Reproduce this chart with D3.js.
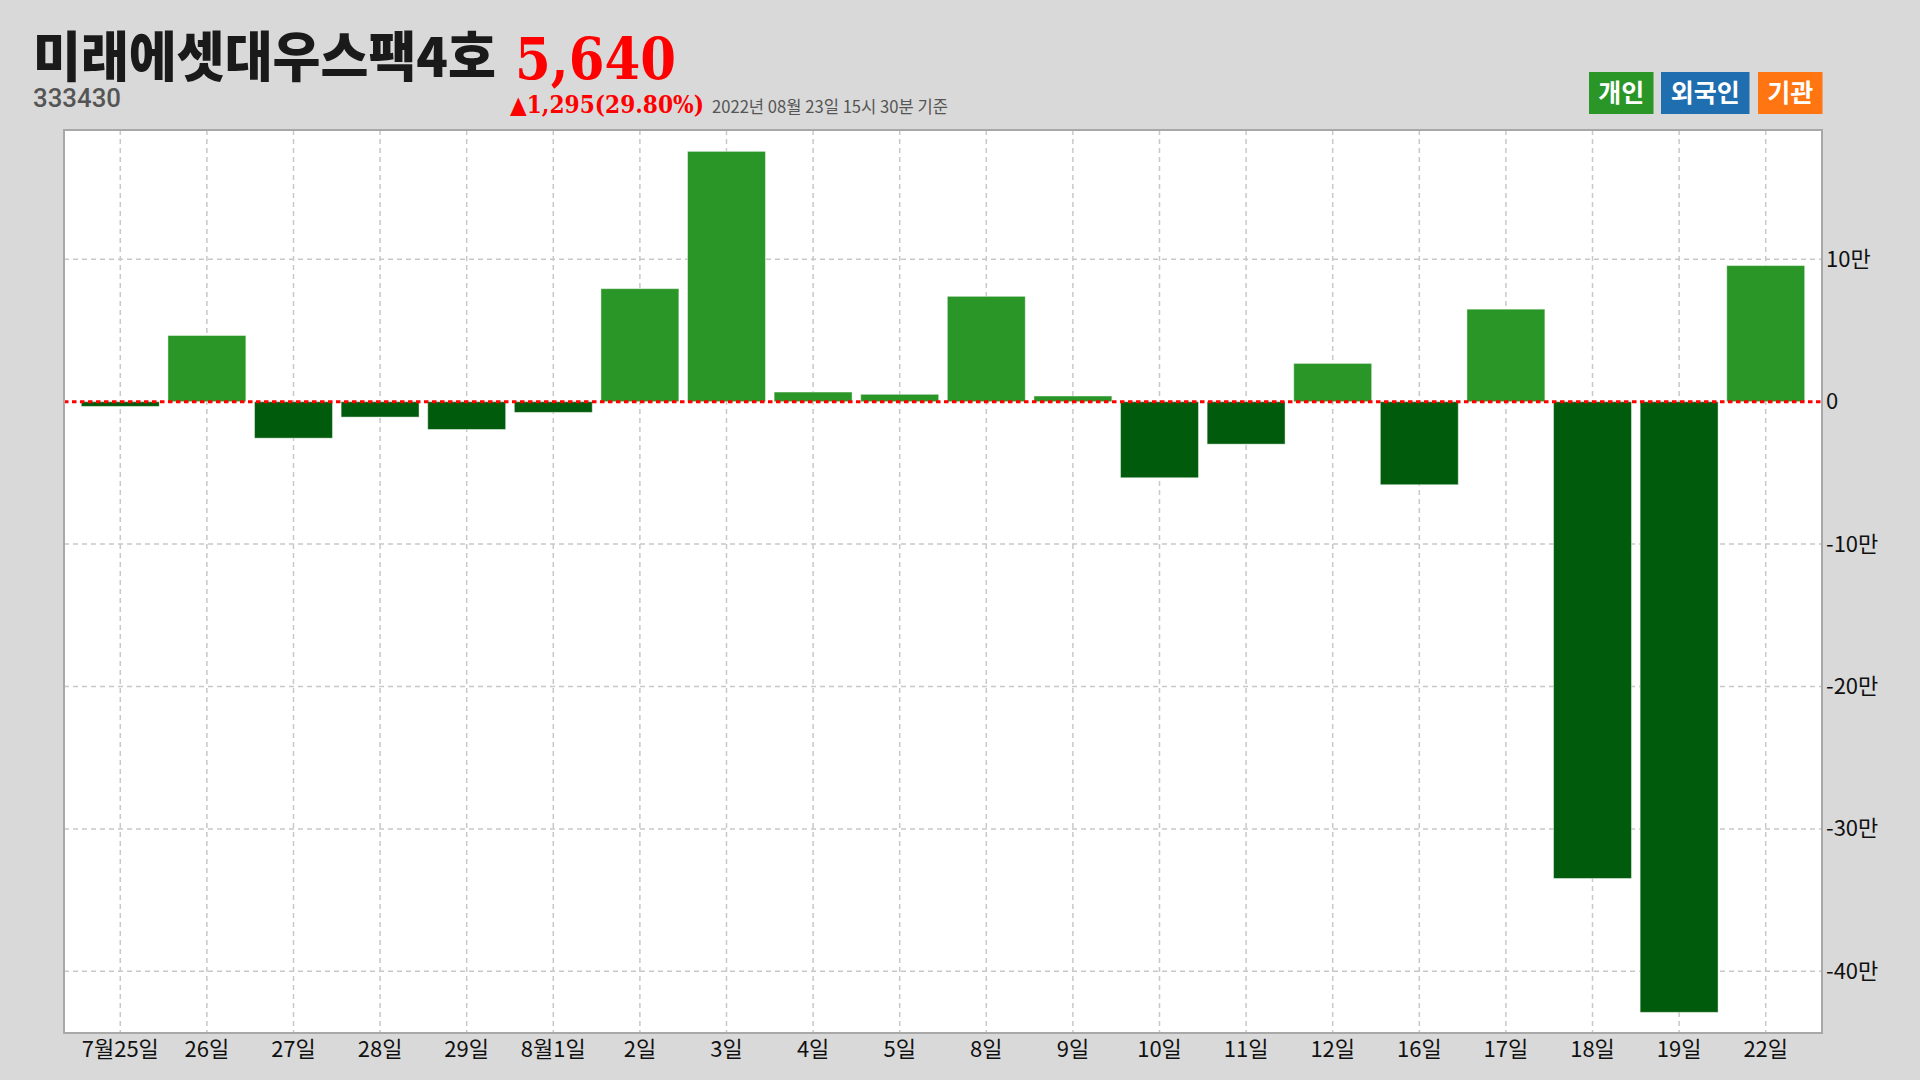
<!DOCTYPE html>
<html>
<head>
<meta charset="utf-8">
<script src="https://cdn.jsdelivr.net/npm/d3@7"></script>
<style>
  html, body { margin: 0; padding: 0; background: #d9d9d9; }
  svg { display: block; }
</style>
</head>
<body>
<svg id="chart" width="1920" height="1080"></svg>
<script>
// ---- data ----
const categories = ["7월25일","26일","27일","28일","29일","8월1일","2일","3일","4일","5일","8일","9일","10일","11일","12일","16일","17일","18일","19일","22일"];
const values = [-3300, 46500, -25600, -10800, -19500, -7500, 79400, 175800, 6800, 5200, 74000, 4000, -53400, -29800, 26900, -58300, 65000, -334800, -428800, 95600];
const yTicks = [-400000, -300000, -200000, -100000, 0, 100000];
const yTickLabels = ["-40만", "-30만", "-20만", "-10만", "0", "10만"];
const yDomain = [-443300, 190800];
const legendLabels = ["개인", "외국인", "기관"];
const legendColors = ["#2a9627", "#1f6eb0", "#ff7512"];
const titleText = "미래에셋대우스팩4호";
const codeText = "333430";
const priceText = "5,640";
const changeText = "▲1,295(29.80%)";
const dateText = "2022년 08월 23일 15시 30분 기준";

// ---- layout ----
const W = 1920, H = 1080;
const plot = { left: 64, top: 130, right: 1822, bottom: 1033 };
const posColor = "#2a9627", negColor = "#005c0c";
const kr = "'Noto Sans CJK KR', 'Noto Sans', sans-serif";

const svg = d3.select("#chart");
svg.append("rect").attr("width", W).attr("height", H).attr("fill", "#d9d9d9");

const x = d3.scaleBand().domain(categories).range([plot.left, plot.right]).paddingInner(0.1).paddingOuter(0.2);
const y = d3.scaleLinear().domain(yDomain).range([plot.bottom, plot.top]);

// plot background
svg.append("rect")
  .attr("x", plot.left).attr("y", plot.top)
  .attr("width", plot.right - plot.left).attr("height", plot.bottom - plot.top)
  .attr("fill", "#ffffff");

// grid
const grid = svg.append("g").attr("stroke", "#c8c8c8").attr("stroke-width", 1.5).attr("stroke-dasharray", "5,4");
grid.selectAll("line.v").data(categories).join("line")
  .attr("x1", d => x(d) + x.bandwidth() / 2).attr("x2", d => x(d) + x.bandwidth() / 2)
  .attr("y1", plot.top).attr("y2", plot.bottom);
grid.selectAll("line.h").data(yTicks.filter(v => v !== 0)).join("line")
  .attr("x1", plot.left).attr("x2", plot.right)
  .attr("y1", d => y(d)).attr("y2", d => y(d));

// bars
svg.append("g").selectAll("rect").data(values).join("rect")
  .attr("x", (d, i) => x(categories[i]))
  .attr("width", x.bandwidth())
  .attr("y", d => y(Math.max(0, d)))
  .attr("height", d => Math.abs(y(d) - y(0)))
  .attr("fill", d => d >= 0 ? posColor : negColor)
  .attr("stroke", "rgba(255,255,255,0.45)")
  .attr("stroke-width", 1);

// zero line
svg.append("line")
  .attr("x1", plot.left).attr("x2", plot.right)
  .attr("y1", y(0)).attr("y2", y(0))
  .attr("stroke", "#ff0000").attr("stroke-width", 3)
  .attr("stroke-dasharray", "4.5,3.5");

// frame
svg.append("rect")
  .attr("x", plot.left).attr("y", plot.top)
  .attr("width", plot.right - plot.left).attr("height", plot.bottom - plot.top)
  .attr("fill", "none").attr("stroke", "#a8a8a8").attr("stroke-width", 2);

// y axis (right)
const yAxis = d3.axisRight(y).tickValues(yTicks).tickSize(0).tickPadding(4)
  .tickFormat((d, i) => yTickLabels[i]);
const gy = svg.append("g").attr("transform", `translate(${plot.right},0)`).call(yAxis);
gy.select(".domain").remove();
gy.selectAll("text").attr("font-family", kr).attr("font-size", 22).attr("fill", "#111");

// x axis
const xAxis = d3.axisBottom(x).tickSize(0).tickPadding(8);
const gx = svg.append("g").attr("transform", `translate(0,${plot.bottom})`).call(xAxis);
gx.select(".domain").remove();
gx.selectAll("text").attr("font-family", kr).attr("font-size", 22).attr("fill", "#111");

// header
svg.append("text").text(titleText)
  .attr("x", 33).attr("y", 77)
  .attr("font-family", kr).attr("font-weight", 900).attr("font-size", 54)
  .attr("fill", "#1a1a1a")
  .attr("textLength", 463).attr("lengthAdjust", "spacingAndGlyphs");
svg.append("text").text(priceText)
  .attr("x", 515).attr("y", 79)
  .attr("font-family", "'DejaVu Serif', serif").attr("font-weight", "bold").attr("font-size", 58)
  .attr("fill", "#ff0000")
  .attr("textLength", 161).attr("lengthAdjust", "spacingAndGlyphs");
svg.append("text").text(codeText)
  .attr("x", 33).attr("y", 107)
  .attr("font-family", "Roboto, sans-serif").attr("font-weight", 500).attr("font-size", 26)
  .attr("fill", "#555")
  .attr("textLength", 88).attr("lengthAdjust", "spacingAndGlyphs");
svg.append("text").text(changeText)
  .attr("x", 510).attr("y", 112.5)
  .attr("font-family", "'DejaVu Serif', serif").attr("font-weight", "bold").attr("font-size", 24)
  .attr("fill", "#ff0000")
  .attr("textLength", 194).attr("lengthAdjust", "spacingAndGlyphs");
svg.append("text").text(dateText)
  .attr("x", 712).attr("y", 112.5)
  .attr("font-family", kr).attr("font-size", 17)
  .attr("fill", "#555")
  .attr("textLength", 236).attr("lengthAdjust", "spacingAndGlyphs");

// legend
const legendBoxes = [[1589, 64.5], [1661, 88.5], [1758, 64.5]];
const lg = svg.append("g");
legendLabels.forEach((lab, i) => {
  const [lx, lw] = legendBoxes[i];
  lg.append("rect").attr("x", lx).attr("y", 72).attr("width", lw).attr("height", 42).attr("fill", legendColors[i]);
  lg.append("text").text(lab)
    .attr("x", lx + lw / 2).attr("y", 102)
    .attr("text-anchor", "middle")
    .attr("font-family", kr).attr("font-weight", "bold").attr("font-size", 25)
    .attr("fill", "#ffffff");
});
</script>
</body>
</html>
